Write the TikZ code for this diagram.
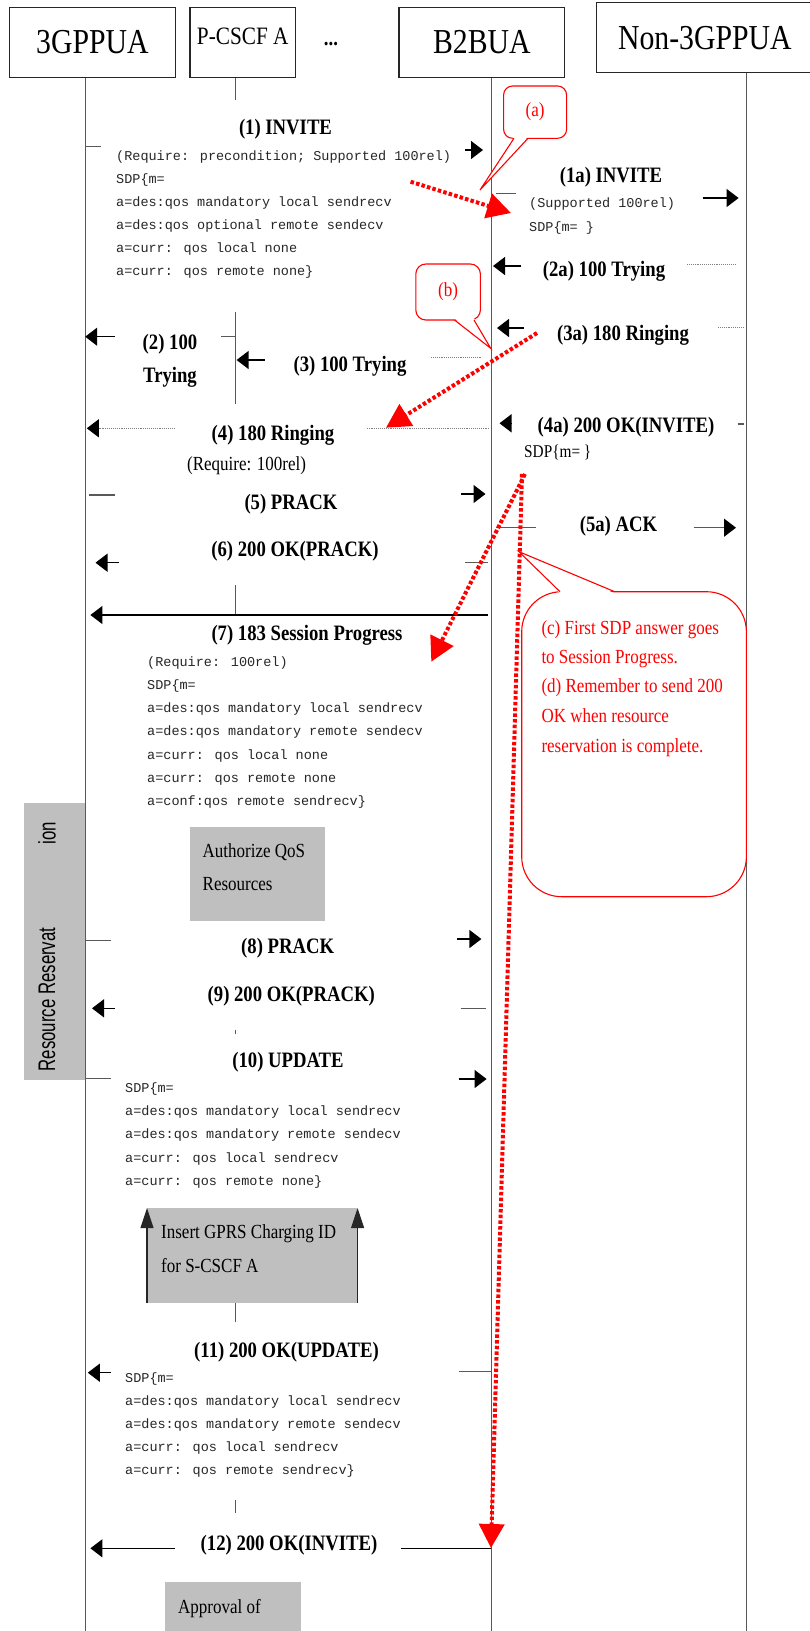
\documentclass[tikz,border=0pt]{standalone}
\usepackage{fontspec}
\setmainfont{Liberation Serif}[FakeStretch=0.85]
\newfontfamily\monofont{Liberation Mono}
\newfontfamily\narrowsans{Liberation Sans}[FakeStretch=0.7]
\usetikzlibrary{arrows.meta}

\begin{document}
\begin{tikzpicture}[x=1pt, y=-1pt,
  hdr/.style={draw=black!85, line width=1.3pt, fill=white, inner sep=0pt,
    font=\fontsize{35}{40}\selectfont},
  lbl/.style={font=\fontsize{22}{33}\selectfont\bfseries, inner sep=0pt},
  sdp/.style={font=\monofont\fontsize{13.5}{16}\selectfont, inner sep=0pt,
    anchor=base west, text=black!85},
  note/.style={font=\fontsize{20}{24}\selectfont, inner sep=0pt},
  life/.style={draw=black!65, line width=1.3pt},
  stub/.style={draw=black!65, line width=1.3pt},
  faint/.style={draw=black!50, line width=0.9pt, densely dotted},
  tip/.style={draw=black, line width=1.3pt, -{Triangle[length=12pt,width=18pt,color=black]}},
  faintip/.style={faint, -{Triangle[length=12pt,width=18pt,color=black]}},
  uptip/.style={draw=black!85, line width=1.1pt, -{Triangle[length=20pt,width=13pt]}},
  shade/.style={fill=black!25, draw=none, inner sep=0pt},
  redflow/.style={draw=red, line width=4pt, dash pattern=on 3.5pt off 2.2pt,
    -{Triangle[length=24pt,width=25pt]}},
  bubble/.style={draw=red, line width=1.1pt, fill=white, text=red, inner sep=0pt,
    font=\fontsize{20}{24}\selectfont},
  tail/.style={draw=red, line width=1.1pt},
  rednote/.style={note, text=red, anchor=base west},
]
\useasboundingbox (0,0) rectangle (810,1631);

% ---------- shaded activity boxes ----------
\node[shade, minimum width=61.2pt, minimum height=276.7pt] (rr) at (54.6,941.65) {};
\node[font=\narrowsans\fontsize{24}{28}\selectfont, rotate=90, inner sep=0pt] (rrA) at (47,999.5) {Resource Reservat};
\node[font=\narrowsans\fontsize{24}{28}\selectfont, rotate=90, inner sep=0pt] (rrB) at (47,833) {ion};

\node[shade, minimum width=135.4pt, minimum height=93.4pt] (qos) at (257.7,874) {};
\node[note, anchor=base west] (qosA) at (202.5,857) {Authorize QoS};
\node[note, anchor=base west] (qosB) at (202.5,890.5) {Resources};

\node[shade, minimum width=210.2pt, minimum height=94.4pt] (gprs) at (252.3,1255.5) {};
\draw[uptip] (gprs.south west) -- (gprs.north west);
\draw[uptip] (gprs.south east) -- (gprs.north east);
\node[note, anchor=base west] (gprsA) at (161,1238) {Insert GPRS Charging ID};
\node[note, anchor=base west] (gprsB) at (161,1272) {for S-CSCF A};

\node[shade, minimum width=135.3pt, minimum height=57.7pt] (appr) at (232.95,1611.15) {};
\node[note, anchor=base west] (apprA) at (178,1613) {Approval of};

% ---------- participants ----------
\node[hdr, minimum width=166.3pt, minimum height=70.4pt] (ua) at (92.45,42.5) {3GPPUA};
\node[hdr, minimum width=105.5pt, minimum height=70.4pt, font=\fontsize{25}{30}\selectfont,
  text depth=12pt] (pc) at (242.75,42.5) {P-CSCF A};
\node[font=\fontsize{22}{26}\selectfont\bfseries, inner sep=0pt, anchor=base] (dots) at (331,45.7) {...};
\node[hdr, minimum width=165.6pt, minimum height=70.4pt] (b2) at (481.8,42.5) {B2BUA};
\node[hdr, minimum width=216.4pt, minimum height=70pt] (n3) at (704.8,37.7) {Non-3GPPUA};

% ---------- lifelines ----------
\coordinate (uaEnd) at (85.2,1631);
\coordinate (b2End) at (491.2,1631);
\coordinate (n3End) at (746.4,1631);
\coordinate (pcA) at (235.5,100);
\draw[life] (ua.south -| uaEnd) -- (uaEnd);
\draw[life] (b2.south -| b2End) -- (b2End);
\draw[life] (n3.south -| n3End) -- (n3End);
\draw[life] (pc.south -| pcA) -- (pcA);
\coordinate (pcB1) at (235.5,311.7);  \coordinate (pcB2) at (235.5,404);
\coordinate (pcC1) at (235.5,585);    \coordinate (pcC2) at (235.5,615);
\coordinate (pcD1) at (235.5,1030);   \coordinate (pcD2) at (235.5,1034);
\coordinate (pcE1) at (235.5,1303);   \coordinate (pcE2) at (235.5,1322);
\coordinate (pcF1) at (235.5,1500);   \coordinate (pcF2) at (235.5,1513);
\draw[life] (pcB1) -- (pcB2);
\draw[life] (pcC1) -- (pcC2);
\draw[life] (pcD1) -- (pcD2);
\draw[life] (pcE1) -- (pcE2);
\draw[life] (pcF1) -- (pcF2);

% ---------- message pieces ----------
% (1) INVITE
\coordinate (m1a) at (85.2,146.7); \coordinate (m1b) at (101,146.7);
\coordinate (m1c) at (465,150);    \coordinate (m1d) at (483,150);
\draw[stub] (m1a) -- (m1b); \draw[tip] (m1c) -- (m1d);
% (1a) INVITE
\coordinate (n1a) at (496,193.3);  \coordinate (n1b) at (515.5,193.3);
\coordinate (n1c) at (702.5,198);  \coordinate (n1d) at (738.6,198);
\draw[stub] (n1a) -- (n1b); \draw[tip] (n1c) -- (n1d);
% (2a) 100 Trying
\coordinate (n2a) at (520.7,266);  \coordinate (n2b) at (493,266);
\coordinate (n2c) at (687,264);    \coordinate (n2d) at (736,264);
\draw[tip] (n2a) -- (n2b); \draw[faint] (n2c) -- (n2d);
% (3a) 180 Ringing
\coordinate (n3a) at (524,328);    \coordinate (n3b) at (497,328);
\coordinate (n3c) at (718,327);    \coordinate (n3d) at (743,327);
\draw[tip] (n3a) -- (n3b); \draw[faint] (n3c) -- (n3d);
% (2) 100 Trying
\coordinate (m2a) at (114.7,336.7); \coordinate (m2b) at (85.2,336.7);
\coordinate (m2c) at (221,336.7);   \coordinate (m2d) at (235.5,336.7);
\draw[tip] (m2a) -- (m2b); \draw[stub] (m2c) -- (m2d);
% (3) 100 Trying
\coordinate (m3a) at (264.5,360);  \coordinate (m3b) at (236.6,360);
\coordinate (m3c) at (431,357.7);  \coordinate (m3d) at (481,357.7);
\draw[tip] (m3a) -- (m3b); \draw[faint] (m3c) -- (m3d);
% (4) 180 Ringing
\coordinate (m4a) at (174.6,428.3); \coordinate (m4b) at (86.8,428.3);
\coordinate (m4c) at (366.7,428.3); \coordinate (m4d) at (489.7,428.3);
\draw[faintip] (m4a) -- (m4b); \draw[faint] (m4c) -- (m4d);
% (4a) 200 OK(INVITE)
\coordinate (n4a) at (511.4,423.3); \coordinate (n4b) at (499.5,423.3);
\coordinate (n4c) at (737.6,424);   \coordinate (n4d) at (744,424);
\draw[tip] (n4a) -- (n4b); \draw[stub] (n4c) -- (n4d);
% (5) PRACK
\coordinate (m5a) at (88.8,495);   \coordinate (m5b) at (114.7,495);
\coordinate (m5c) at (461,494);    \coordinate (m5d) at (485.5,494);
\draw[stub] (m5a) -- (m5b); \draw[tip] (m5c) -- (m5d);
% (5a) ACK
\coordinate (n5a) at (496,527.7);  \coordinate (n5b) at (535.6,527.7);
\coordinate (n5c) at (693.7,527.7); \coordinate (n5d) at (736,527.7);
\draw[stub] (n5a) -- (n5b); \draw[tip, draw=black!65] (n5c) -- (n5d);
% (6) 200 OK(PRACK)
\coordinate (m6a) at (118.8,562.7); \coordinate (m6b) at (95.5,562.7);
\coordinate (m6c) at (465,562.7);   \coordinate (m6d) at (488,562.7);
\draw[tip] (m6a) -- (m6b); \draw[stub] (m6c) -- (m6d);
% (7) 183 Session Progress
\coordinate (m7a) at (488,615);    \coordinate (m7b) at (90.4,615);
\draw[tip] (m7a) -- (m7b);
% (8) PRACK
\coordinate (m8a) at (85.2,940.7); \coordinate (m8b) at (111,940.7);
\coordinate (m8c) at (457,939);    \coordinate (m8d) at (481.4,939);
\draw[stub] (m8a) -- (m8b); \draw[tip] (m8c) -- (m8d);
% (9) 200 OK(PRACK)
\coordinate (m9a) at (114.7,1008.3); \coordinate (m9b) at (92,1008.3);
\coordinate (m9c) at (460.7,1008.3); \coordinate (m9d) at (485.5,1008.3);
\draw[tip] (m9a) -- (m9b); \draw[stub] (m9c) -- (m9d);
% (10) UPDATE
\coordinate (m10a) at (85.2,1078.3); \coordinate (m10b) at (111,1078.3);
\coordinate (m10c) at (458.7,1079);  \coordinate (m10d) at (486.6,1079);
\draw[stub] (m10a) -- (m10b); \draw[tip] (m10c) -- (m10d);
% (11) 200 OK(UPDATE)
\coordinate (m11a) at (111,1372.7);   \coordinate (m11b) at (87.8,1372.7);
\coordinate (m11c) at (458.7,1371.7); \coordinate (m11d) at (491.2,1371.7);
\draw[tip] (m11a) -- (m11b); \draw[stub] (m11c) -- (m11d);
% (12) 200 OK(INVITE)
\coordinate (m12a) at (174.6,1548.3); \coordinate (m12b) at (90.4,1548.3);
\coordinate (m12c) at (401,1548.3);   \coordinate (m12d) at (491.2,1548.3);
\draw[tip] (m12a) -- (m12b); \draw[stub, draw=black] (m12c) -- (m12d);

% ---------- message labels ----------
\node[lbl] (l1) at (285.5,129) {(1) INVITE};
\node[lbl] (l1a) at (611,177.5) {(1a) INVITE};
\node[lbl] (l2a) at (604,271) {(2a) 100 Trying};
\node[lbl] (l3a) at (623,335) {(3a) 180 Ringing};
\node[lbl, align=center] (l2) at (170,360.5) {(2) 100\\Trying};
\node[lbl] (l3) at (350,366) {(3) 100 Trying};
\node[lbl] (l4) at (273,435.5) {(4) 180 Ringing};
\node[note] (l4r) at (246.6,465.5) {(Require: 100rel)};
\node[lbl] (l4a) at (626,427.5) {(4a) 200 OK(INVITE)};
\node[note, font=\fontsize{18}{22}\selectfont, anchor=west] (l4s) at (524,452.5) {SDP\{m= \}};
\node[lbl] (l5) at (291,504) {(5) PRACK};
\node[lbl] (l5a) at (618.5,526) {(5a) ACK};
\node[lbl] (l6) at (295,551.5) {(6) 200 OK(PRACK)};
\node[lbl] (l7) at (307,635) {(7) 183 Session Progress};
\node[lbl] (l8) at (287.7,948) {(8) PRACK};
\node[lbl] (l9) at (291.3,996) {(9) 200 OK(PRACK)};
\node[lbl] (l10) at (288,1062.5) {(10) UPDATE};
\node[lbl] (l11) at (286.5,1351.7) {(11) 200 OK(UPDATE)};
\node[lbl] (l12) at (289,1545) {(12) 200 OK(INVITE)};

% ---------- SDP bodies ----------
\foreach \t [count=\i] in {{(Require: precondition; Supported 100rel)}, {SDP\{m=},
    {a=des:qos mandatory local sendrecv}, {a=des:qos optional remote sendecv},
    {a=curr: qos local none}, {a=curr: qos remote none\}}}
  \node[sdp] (sA\i) at (116,{160+23.1*(\i-1)}) {\t};
\node[sdp] (sB1) at (529,207) {(Supported 100rel)};
\node[sdp] (sB2) at (529,231) {SDP\{m= \}};
\foreach \t [count=\i] in {{(Require: 100rel)}, {SDP\{m=},
    {a=des:qos mandatory local sendrecv}, {a=des:qos mandatory remote sendecv},
    {a=curr: qos local none}, {a=curr: qos remote none},
    {a=conf:qos remote sendrecv\}}}
  \node[sdp] (sC\i) at (147,{666+23.3*(\i-1)}) {\t};
\foreach \t [count=\i] in {{SDP\{m=},
    {a=des:qos mandatory local sendrecv}, {a=des:qos mandatory remote sendecv},
    {a=curr: qos local sendrecv}, {a=curr: qos remote none\}}}
  \node[sdp] (sD\i) at (125,{1092+23.35*(\i-1)}) {\t};
\foreach \t [count=\i] in {{SDP\{m=},
    {a=des:qos mandatory local sendrecv}, {a=des:qos mandatory remote sendecv},
    {a=curr: qos local sendrecv}, {a=curr: qos remote sendrecv\}}}
  \node[sdp] (sE\i) at (125,{1382+23*(\i-1)}) {\t};

% ---------- callouts ----------
\node[bubble, rounded corners=9pt, minimum width=63pt, minimum height=52.3pt] (ca) at (535.1,112.15) {(a)\hspace{14pt}};
\coordinate (ta1) at (514,138.3); \coordinate (ta2) at (528,138.3); \coordinate (taT) at (480,190);
\fill[white] ([yshift=1.6pt]ta1) -- (taT) -- ([yshift=1.6pt]ta2) -- cycle;
\draw[tail] (ta1) -- (taT) -- (ta2);

\node[bubble, rounded corners=10pt, minimum width=64.6pt, minimum height=56pt] (cb) at (448.1,292) {(b)\hspace{16pt}};
\coordinate (tb1) at (454.5,320); \coordinate (tb2) at (474,320); \coordinate (tbT) at (490.7,348.3);
\fill[white] ([yshift=1.6pt]tb1) -- (tbT) -- ([yshift=1.6pt]tb2) -- cycle;
\draw[tail] (tb1) -- (tbT) -- (tb2);

\node[bubble, rounded corners=40pt, minimum width=224.7pt, minimum height=305pt] (cc) at (634.05,744.2) {};
\coordinate (tc1) at (560,591.7); \coordinate (tc2) at (614.7,591.7); \coordinate (tcT) at (519,551.7);
\fill[white] ([yshift=-1.6pt]tc1) -- (tcT) -- ([yshift=-1.6pt]tc2) -- cycle;
\draw[tail] (tc1) -- (tcT) -- (tc2);
\node[rednote] (cc1) at (541.3,634.6) {(c) First SDP answer goes};
\node[rednote] (cc2) at (541.3,663.6) {to Session Progress.};
\node[rednote] (cc3) at (541.3,692.6) {(d) Remember to send 200};
\node[rednote] (cc4) at (541.3,722) {OK when resource};
\node[rednote] (cc5) at (541.3,752) {reservation is complete.};

% ---------- red flow arrows ----------
\coordinate (ra0) at (410.6,181.7); \coordinate (ra1) at (511,213);
\coordinate (rb0) at (537,333);     \coordinate (rb1) at (386,427.7);
\coordinate (rc0) at (525,474);     \coordinate (rc1) at (431.3,661.7);
\coordinate (rd0) at (522,474);     \coordinate (rd1) at (491,1548);
\draw[redflow] (ra0) -- (ra1);
\draw[redflow] (rb0) -- (rb1);
\draw[redflow] (rc0) -- (rc1);
\draw[redflow] (rd0) -- (rd1);
\end{tikzpicture}
\end{document}
